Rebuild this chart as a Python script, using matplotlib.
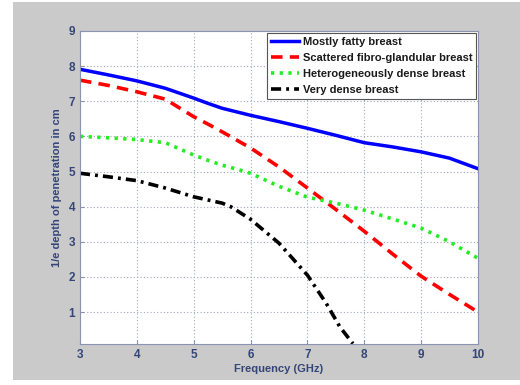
import matplotlib.pyplot as plt
from matplotlib.patches import Rectangle

# values
freq = [3.0, 3.5, 4.0, 4.5, 5.0, 5.25, 5.5, 5.75, 6.0, 6.5, 7.0, 7.5, 8.0, 8.5, 9.0, 9.5, 10.0]
fatty = [7.91, 7.75, 7.58, 7.37, 7.09, 6.94, 6.80, 6.70, 6.60, 6.42, 6.23, 6.03, 5.82, 5.70,
         5.56, 5.38, 5.08]
scattered = [7.60, 7.45, 7.27, 7.06, 6.56, 6.35, 6.13, 5.90, 5.67, 5.13, 4.53, 3.92, 3.30,
             2.65, 2.02, 1.50, 1.00]
hetero = [6.00, 5.96, 5.91, 5.82, 5.47, 5.32, 5.18, 5.07, 4.95, 4.58, 4.27, 4.10, 3.90, 3.65,
          3.39, 3.00, 2.53]
very_freq = [3.0, 3.5, 4.0, 4.5, 5.0, 5.5, 5.65, 6.0, 6.5, 7.0, 7.33, 7.57, 7.8]
very_dense = [4.95, 4.85, 4.74, 4.53, 4.28, 4.10, 4.00, 3.64, 2.96, 2.05, 1.25, 0.58, 0.10]

labels = ["Mostly fatty breast", "Scattered fibro-glandular breast",
          "Heterogeneously dense breast", "Very dense breast"]
xticks = [3, 4, 5, 6, 7, 8, 9, 10]
yticks = [1, 2, 3, 4, 5, 6, 7, 8, 9]

txt_color = "#34457a"
axis_color = "#8a93b0"

plt.rcParams["font.family"] = ["Liberation Sans", "DejaVu Sans"]
plt.rcParams["font.weight"] = "bold"

fig = plt.figure(figsize=(5.2, 3.85), dpi=100, facecolor="white")
fig.patches.append(Rectangle((13 / 520, 5 / 385), 1 - 13 / 520, 1 - 7 / 385,
                             transform=fig.transFigure, facecolor="#cacaca",
                             edgecolor="none", zorder=-10))

ax = fig.add_axes([0.1538, 0.1065, 0.7654, 0.813])
ax.set_facecolor("white")

ax.plot(freq, fatty, color="#0000ff", linestyle="-", linewidth=2.5, label=labels[0])
ax.plot(freq, scattered, color="#ff0000", linestyle=(0, (3.2, 2.0)), linewidth=2.6, label=labels[1])
ax.plot(freq, hetero, color="#22ee22", linestyle=(0, (0.9, 1.5)), linewidth=2.6, label=labels[2])
ax.plot(very_freq, very_dense, color="black", linestyle=(0, (2.8, 1.4, 0.8, 1.4)), linewidth=2.6,
        label=labels[3])

ax.set_xlim(3, 10)
ax.set_ylim(0.09, 9)
ax.set_xticks(xticks)
ax.set_yticks(yticks)
ax.grid(True, linestyle=(0, (1, 2)), color="#a0a8c0", linewidth=0.8)
ax.tick_params(colors=axis_color, labelcolor=txt_color, labelsize=8.5, direction="in",
               length=3)
for lab in ax.get_xticklabels() + ax.get_yticklabels():
    lab.set_fontweight("bold")
for sp in ax.spines.values():
    sp.set_color(axis_color)

ax.set_xlabel("Frequency (GHz)", color=txt_color, fontsize=8, fontweight="bold", labelpad=2)
ax.set_ylabel("1/e depth of penetration in cm", color=txt_color, fontsize=8,
              fontweight="bold", labelpad=5)

leg = ax.legend(loc="upper right", frameon=True, fancybox=False,
                borderpad=0.35, labelspacing=0.55, handlelength=2.6, handletextpad=0.3,
                borderaxespad=0.15, prop={"weight": "bold", "size": 8})
leg.get_frame().set_edgecolor("#555555")
leg.get_frame().set_linewidth(0.8)
leg.get_frame().set_alpha(1)
for t in leg.get_texts():
    t.set_color("#1a1a1a")

fig.savefig("out.png", dpi=100, facecolor=fig.get_facecolor())
